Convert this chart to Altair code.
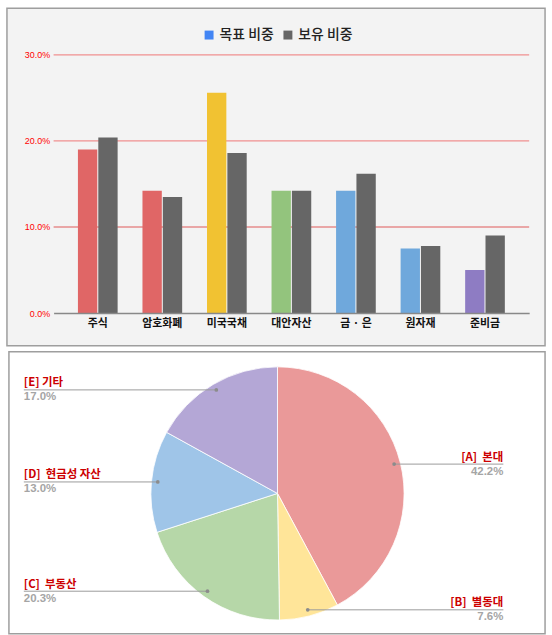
import math
import altair as alt
import pandas as pd

# ---------------- data ----------------
categories = ['주식', '암호화폐', '미국국채', '대안자산', '금 · 은', '원자재', '준비금']
target_pct = [19.0, 14.2, 25.6, 14.2, 14.2, 7.5, 5.0]
held_pct = [20.4, 13.5, 18.6, 14.2, 16.2, 7.8, 9.0]
series_names = ['목표 비중', '보유 비중']
y_ticks = [0.0, 0.1, 0.2, 0.3]

pie_labels = ['[A]\u00a0 본대', '[B]\u00a0 별동대', '[C]\u00a0 부동산', '[D]\u00a0 현금성 자산', '[E] 기타']
pie_pct = [42.2, 7.6, 20.3, 13.0, 17.0]
pie_side = ['right', 'right', 'left', 'left', 'left']

# ---------------- styles ----------------
target_colors = ['#e06666', '#e06666', '#f1c232', '#93c47d', '#6fa8dc', '#6fa8dc', '#8e7cc3']
held_color = '#666666'
legend_colors = ['#4285f4', held_color]
pie_colors = ['#ea9999', '#ffe599', '#b6d7a8', '#9fc5e8', '#b4a7d6']
KFONT = 'Noto Sans CJK KR'
PANEL_STROKE = '#9e9e9e'

# ---------------- top chart ----------------
TW, TH = 479, 260
rows = []
for c, t, h in zip(categories, target_pct, held_pct):
    rows.append({'category': c, 'series': series_names[0], 'value': t / 100, 'ckey': c})
    rows.append({'category': c, 'series': series_names[1], 'value': h / 100, 'ckey': 'held'})
bar_df = pd.DataFrame(rows)

yscale = alt.Scale(domain=[0, 0.3], nice=False)
yaxis = alt.Axis(values=y_ticks, format='.1%', title=None, domain=False, ticks=False,
                 grid=False, labelColor='#ff0000', labelFont='Liberation Sans',
                 labelFontSize=9, labelPadding=4, zindex=1)

bg = alt.Chart(pd.DataFrame({'a': [0]})).mark_rect(
    fill='#f3f3f3', stroke=PANEL_STROKE, strokeWidth=1.5
).encode(x=alt.value(-47), x2=alt.value(495), y=alt.value(-47), y2=alt.value(293))

grid_lo = alt.Chart(pd.DataFrame({'v': y_ticks[1:2]})).mark_rule(
    strokeWidth=1.2, color='#e05a5a').encode(y=alt.Y('v:Q', scale=yscale, axis=yaxis))
grid_hi = alt.Chart(pd.DataFrame({'v': y_ticks[2:]})).mark_rule(
    strokeWidth=1.2, color='#f09090').encode(y=alt.Y('v:Q', scale=yscale, axis=yaxis))

bars = alt.Chart(bar_df).mark_bar().encode(
    x=alt.X('category:N', sort=categories,
            scale=alt.Scale(paddingInner=0.385, paddingOuter=0.377),
            axis=alt.Axis(title=None, labelAngle=0, ticks=False, domainColor='#888888',
                          domainWidth=1.5, labelFont=KFONT, labelFontWeight='bold',
                          labelFontSize=11, labelColor='#111111', labelPadding=5, zindex=1)),
    xOffset=alt.XOffset('series:N', sort=series_names, scale=alt.Scale(paddingInner=0.05)),
    y=alt.Y('value:Q', scale=yscale, axis=yaxis),
    color=alt.Color('ckey:N', scale=alt.Scale(domain=categories + ['held'],
                                              range=target_colors + [held_color]), legend=None),
)

legend_layers = []
sq_x = [156.6, 236.0]
for i, name in enumerate(series_names):
    ldf = pd.DataFrame({'name': [name]})
    legend_layers.append(
        alt.Chart(ldf).mark_square(size=81, color=legend_colors[i], opacity=1).encode(
            x=alt.value(sq_x[i]), y=alt.value(-20)))
    legend_layers.append(
        alt.Chart(ldf).mark_text(align='left', baseline='middle', font=KFONT, fontSize=14,
                                 fontWeight=500, color='#222222').encode(
            x=alt.value(sq_x[i] + 10.5), y=alt.value(-20), text='name:N'))

top = alt.layer(bg, grid_lo, grid_hi, bars, *legend_layers).properties(
    width=TW, height=TH, view=alt.ViewBackground(stroke='transparent'))

# ---------------- bottom chart ----------------
BW, BH = 479, 284          # plot area starts at page x=52, y=349
R = 127.5
CX, CY = 225.5, 142.7      # pie centre inside the plot area
x_dom = [-CX / R, (BW - CX) / R]
y_dom = [-(BH - CY) / R, CY / R]
RIGHT_X = (453 - CX) / R
LEFT_X = (-30 - CX) / R

total = sum(pie_pct)
prows = []
cum = 0.0
for i, (lab, p, side) in enumerate(zip(pie_labels, pie_pct, pie_side)):
    mid = (cum + p / 2) / total * 2 * math.pi
    cum += p
    prows.append({'idx': i, 'label': lab, 'pct': p, 'pct_text': f'{p:.1f}%', 'side': side,
                  'ax': 0.95 * math.sin(mid), 'ay': 0.95 * math.cos(mid),
                  'lx': RIGHT_X if side == 'right' else LEFT_X})
pie_df = pd.DataFrame(prows)

xs = alt.Scale(domain=x_dom, nice=False, zero=False)
ys = alt.Scale(domain=y_dom, nice=False, zero=False)

panel = alt.Chart(pd.DataFrame({'a': [0]})).mark_rect(
    fill='white', stroke=PANEL_STROKE, strokeWidth=1.5
).encode(x=alt.value(-45), x2=alt.value(495), y=alt.value(0), y2=alt.value(BH))

base = alt.Chart(pie_df)
arc = base.mark_arc(radius=R, stroke='white', strokeWidth=0.8).encode(
    theta=alt.Theta('pct:Q', stack=True),
    order=alt.Order('idx:Q'),
    color=alt.Color('label:N', scale=alt.Scale(domain=pie_labels, range=pie_colors), legend=None),
    x=alt.value(CX), y=alt.value(CY),
)
lines = base.mark_rule(color='#9a9a9a', strokeWidth=1).encode(
    x=alt.X('ax:Q', scale=xs, axis=None), x2='lx:Q',
    y=alt.Y('ay:Q', scale=ys, axis=None))
dots = base.mark_circle(size=14, color='#8c8c8c', opacity=1).encode(
    x=alt.X('ax:Q', scale=xs, axis=None), y=alt.Y('ay:Q', scale=ys, axis=None))

text_layers = []
for side, al in [('right', 'right'), ('left', 'left')]:
    sub = base.transform_filter(alt.datum.side == side)
    text_layers.append(sub.mark_text(align=al, baseline='bottom', dy=-1.5, font=KFONT,
                                     fontWeight='bold', fontSize=11.5, color='#cc0000').encode(
        x=alt.X('lx:Q', scale=xs, axis=None), y=alt.Y('ay:Q', scale=ys, axis=None),
        text='label:N'))
    text_layers.append(sub.mark_text(align=al, baseline='top', dy=1.5, font='Liberation Sans',
                                     fontWeight='bold', fontSize=11.5, color='#a5a5a5').encode(
        x=alt.X('lx:Q', scale=xs, axis=None), y=alt.Y('ay:Q', scale=ys, axis=None),
        text='pct_text:N'))

bottom = alt.layer(panel, arc, lines, dots, *text_layers).properties(
    width=BW, height=BH, view=alt.ViewBackground(stroke='transparent'))

chart = alt.vconcat(top, bottom, spacing=2).resolve_scale(color='independent').properties(
    padding={'left': 5, 'top': 4, 'right': 5, 'bottom': 0},
    background='white',
)

chart.save("out.html", embed_options={"renderer": "svg", "actions": False})
